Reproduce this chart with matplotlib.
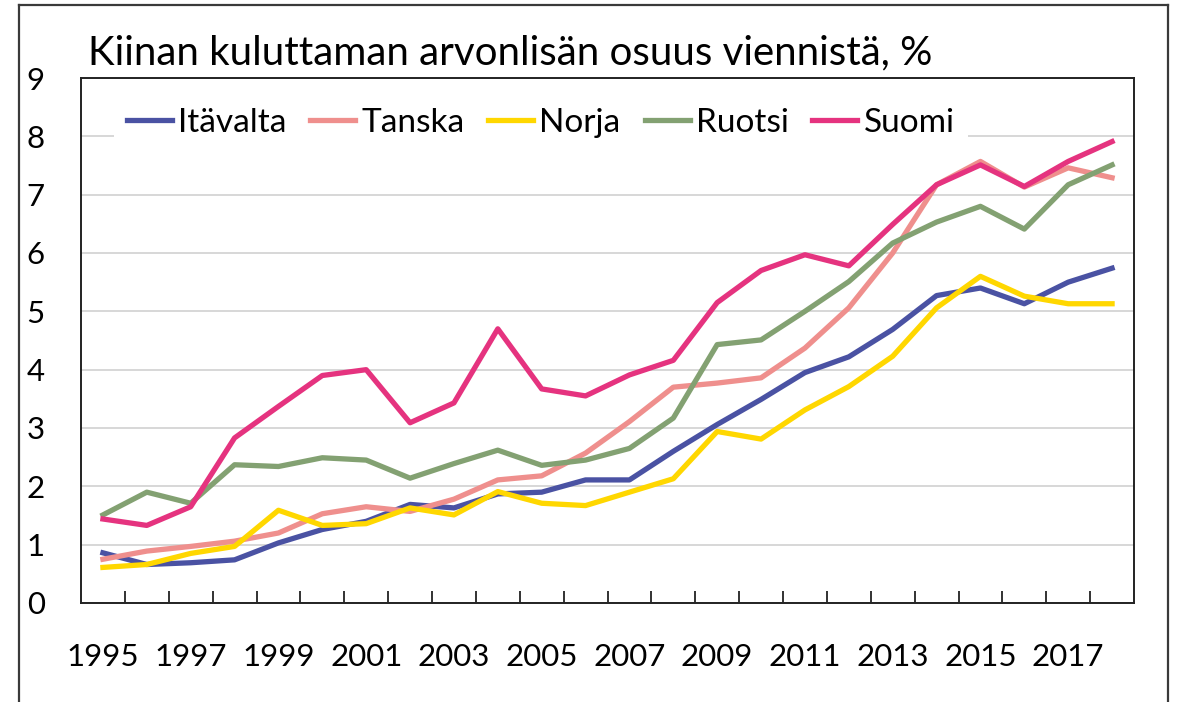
import matplotlib.pyplot as plt
from matplotlib.lines import Line2D

plt.rcParams['font.family'] = ['Lato', 'DejaVu Sans']

years = list(range(1995, 2019))
itavalta = [0.86, 0.66, 0.69, 0.74, 1.03, 1.26, 1.40, 1.69, 1.63, 1.87, 1.90, 2.11,
            2.11, 2.60, 3.06, 3.49, 3.95, 4.22, 4.69, 5.27, 5.40, 5.13, 5.50, 5.74]
tanska = [0.75, 0.89, 0.97, 1.06, 1.20, 1.53, 1.65, 1.57, 1.78, 2.11, 2.18, 2.57,
          3.11, 3.70, 3.77, 3.86, 4.37, 5.06, 6.00, 7.17, 7.57, 7.13, 7.46, 7.29]
norja = [0.61, 0.66, 0.85, 0.97, 1.59, 1.33, 1.36, 1.63, 1.51, 1.91, 1.71, 1.67,
         1.90, 2.13, 2.94, 2.81, 3.31, 3.71, 4.23, 5.06, 5.60, 5.26, 5.13, 5.13]
ruotsi = [1.51, 1.90, 1.71, 2.37, 2.34, 2.49, 2.45, 2.14, 2.39, 2.62, 2.36, 2.45,
          2.65, 3.17, 4.43, 4.51, 5.00, 5.51, 6.17, 6.53, 6.80, 6.41, 7.17, 7.51]
suomi = [1.44, 1.33, 1.65, 2.83, 3.37, 3.90, 4.00, 3.09, 3.43, 4.70, 3.67, 3.55,
         3.91, 4.16, 5.15, 5.70, 5.97, 5.78, 6.49, 7.17, 7.51, 7.14, 7.57, 7.91]

series = [
    ('Itävalta', itavalta, '#4a52a3'),
    ('Tanska', tanska, '#ef8f8d'),
    ('Norja', norja, '#ffd700'),
    ('Ruotsi', ruotsi, '#83a172'),
    ('Suomi', suomi, '#e5337f'),
]

fig = plt.figure(figsize=(11.78, 7.02), dpi=100)
ax = fig.add_axes([81 / 1178, 1 - 603 / 702, (1134 - 81) / 1178, (603 - 78) / 702])

x = list(range(len(years)))
for name, vals, color in series:
    ax.plot(x, vals, color=color, lw=3.8, label=name)

ax.set_xlim(-0.5, len(years) - 0.5)
ax.set_ylim(0, 9)
ax.set_yticks(range(0, 10))
ax.grid(axis='y', color='#d4d4d4', lw=1.3)
ax.set_axisbelow(True)

# labels every other year, tick marks between categories
ax.set_xticks(x[::2])
ax.set_xticklabels([str(y) for y in years[::2]])
ax.set_xticks([i + 0.5 for i in x[:-1]], minor=True)
ax.tick_params(axis='x', which='major', length=0, pad=29, labelsize=22.5)
ax.tick_params(axis='x', which='minor', direction='in', length=9, width=1.3, color='#222222')
ax.tick_params(axis='y', length=0, pad=26, labelsize=22.5)

for s in ax.spines.values():
    s.set_color('#222222')
    s.set_linewidth(1.4)

leg = ax.legend(loc='center left', bbox_to_anchor=(0.031, (603 - 123) / 525), ncol=5,
                frameon=True, fontsize=24, handlelength=1.35, handletextpad=0.18,
                columnspacing=0.72, borderpad=0.4, fancybox=False, borderaxespad=0)
leg.get_frame().set_edgecolor('none')
leg.get_frame().set_facecolor('white')
leg.get_frame().set_alpha(1)

fig.text(88 / 1178, 1 - 53 / 702, 'Kiinan kuluttaman arvonlisän osuus viennistä, %',
         fontsize=29, va='center', ha='left')

# outer frame
for xs, ys in [([19, 19], [5, 702]), ([19, 1168], [5, 5]), ([1168, 1168], [5, 702])]:
    fig.add_artist(Line2D([v / 1178 for v in xs], [1 - v / 702 for v in ys],
                          color='#3a3a3a', lw=1.6))

fig.savefig('out.png', dpi=100)
